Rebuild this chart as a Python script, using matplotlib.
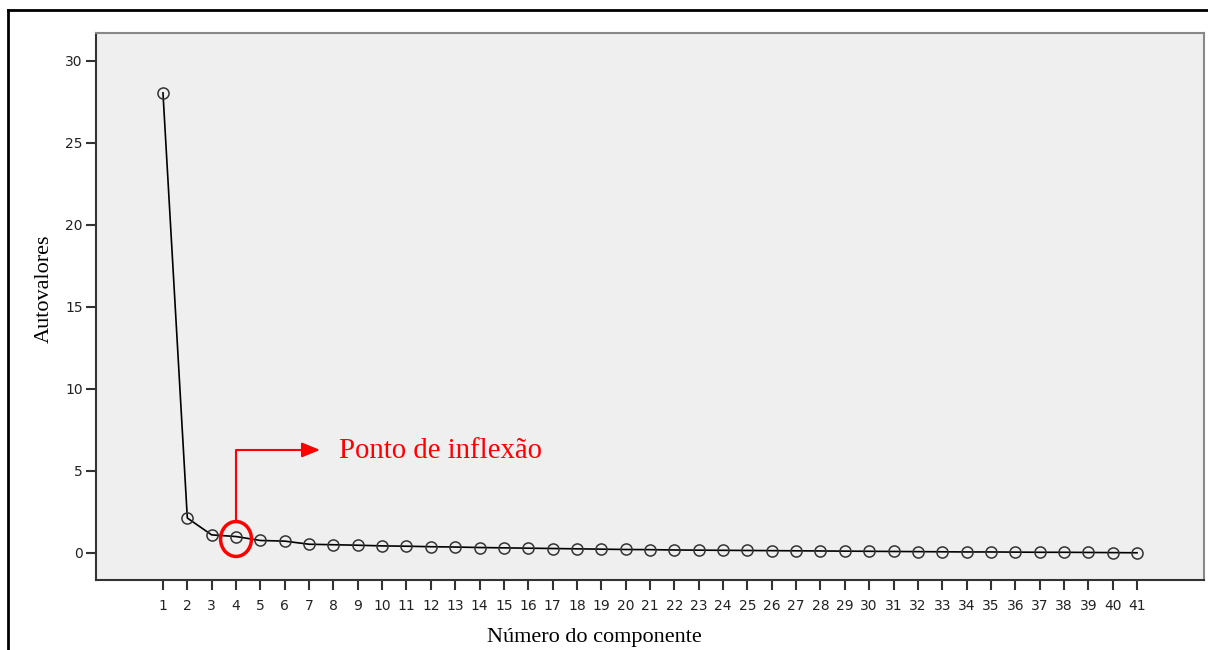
import numpy as np
import matplotlib
matplotlib.use("Agg")
import matplotlib.pyplot as plt
from matplotlib.patches import Ellipse
from matplotlib.lines import Line2D

# eigenvalues
componentes = np.arange(1, 42)
autovalores = [28.05, 2.13, 1.10, 1.00, 0.76, 0.72, 0.53, 0.50, 0.47, 0.43,
               0.41, 0.38, 0.36, 0.33, 0.31, 0.29, 0.27, 0.25, 0.23, 0.21,
               0.20, 0.18, 0.17, 0.16, 0.15, 0.14, 0.13, 0.12, 0.11, 0.10,
               0.09, 0.08, 0.07, 0.06, 0.06, 0.05, 0.04, 0.04, 0.03, 0.02, 0.01]
yticks = [0, 5, 10, 15, 20, 25, 30]
ponto = 4  # inflection point component
texto = "Ponto de inflexão"

fig = plt.figure(figsize=(12.08, 6.5), dpi=100)
ax = fig.add_axes([96/1208, 1 - 580/650, (1204-96)/1208, (580-33)/650])
ax.set_facecolor("#efefef")

ax.plot(componentes, autovalores, color="black", linewidth=1.2, marker="o",
        markersize=8, markerfacecolor="none", markeredgecolor="#333333",
        markeredgewidth=1.1)

ax.set_xlim(-1.75, 43.75)
ax.set_ylim(-1.65, 31.7)
ax.set_xticks(componentes)
ax.set_yticks(yticks)
ax.tick_params(axis="both", direction="out", length=7.5, width=1.5,
               color="#333333", labelsize=10, labelcolor="#222222")
ax.tick_params(axis="x", pad=6)
ax.tick_params(axis="y", pad=2)
for lab in ax.get_xticklabels() + ax.get_yticklabels():
    lab.set_family("DejaVu Sans")

for s in ["left", "bottom"]:
    ax.spines[s].set_color("#333333")
    ax.spines[s].set_linewidth(1.5)
for s in ["top", "right"]:
    ax.spines[s].set_color("#888888")
    ax.spines[s].set_linewidth(1.5)

ax.set_ylabel("Autovalores", family="Liberation Serif", fontsize=16, va="center")
ax.set_xlabel("Número do componente", family="Liberation Serif", fontsize=16,
              va="center")
ax.yaxis.set_label_coords(-0.047, 0.532)
ax.xaxis.set_label_coords(0.4495, -0.106)

# annotation of the inflection point
yv = autovalores[ponto - 1]
ax.add_patch(Ellipse((ponto, yv - 0.15), 1.27, 2.13, fill=False,
                     edgecolor="red", linewidth=2.5, zorder=5))
ytop = yv - 0.15 + 2.13 / 2
ax.plot([ponto, ponto, ponto + 3.0], [ytop, 6.28, 6.28], color="red",
        linewidth=1.5, zorder=5)
ax.annotate("", xy=(ponto + 3.45, 6.28), xytext=(ponto + 2.8, 6.28),
            arrowprops=dict(arrowstyle="-|>,head_length=1.1,head_width=0.45",
                            color="red", linewidth=1.5, shrinkA=0, shrinkB=0))
ax.text(ponto + 4.23, 6.2, texto, color="red", family="Liberation Serif",
        fontsize=20.7, va="center", ha="left")

# outer frame
fig.add_artist(Line2D([8/1208, 8/1208], [0, 1 - 10/650], color="black",
                      linewidth=2, transform=fig.transFigure))
fig.add_artist(Line2D([8/1208, 1], [1 - 10/650, 1 - 10/650], color="black",
                      linewidth=2, transform=fig.transFigure))

fig.savefig("out.png", dpi=100)
